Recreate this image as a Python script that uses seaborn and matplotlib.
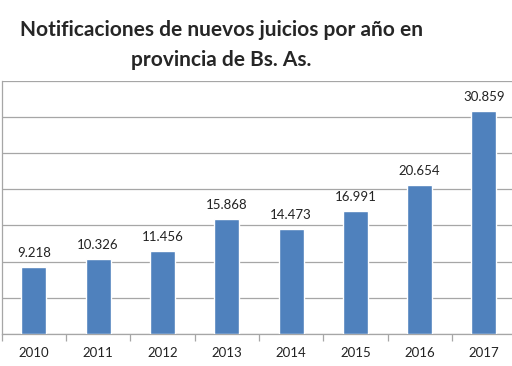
import numpy as np
import pandas as pd
import matplotlib
matplotlib.use("Agg")
import matplotlib.pyplot as plt
import seaborn as sns

years = ["2010", "2011", "2012", "2013", "2014", "2015", "2016", "2017"]
juicios = [9218, 10326, 11456, 15868, 14473, 16991, 20654, 30859]

df = pd.DataFrame({"anio": years, "juicios": juicios})

sns.set_style("white")
plt.rcParams['font.family'] = ['Lato', 'DejaVu Sans']

fig = plt.figure(figsize=(5.12, 3.66), dpi=100)
ax = fig.add_axes([1.7 / 512, 1 - 334 / 366, 514.4 / 512, (334 - 80.7) / 366])

sns.barplot(data=df, x="anio", y="juicios", color="#4F81BD", saturation=1,
            width=0.39, ax=ax, zorder=3)

ax.set_ylim(0, 35000)
ax.set_xlim(-0.5, len(years) - 0.5)
ax.set_yticks(np.arange(0, 35001, 5000))
ax.yaxis.grid(True, color="#A6A6A6", linewidth=0.9, zorder=0)
ax.tick_params(axis="y", left=False, labelleft=False)

# ticks between categories
ax.set_xticks(np.arange(-0.5, len(years), 1.0), minor=True)
ax.tick_params(axis="x", which="major", bottom=False, labelsize=9.5, pad=6, colors="#222222")
ax.tick_params(axis="x", which="minor", bottom=True, length=5, color="#A6A6A6", width=0.9)
ax.set_xlabel("")
ax.set_ylabel("")

for s in ["top", "right"]:
    ax.spines[s].set_visible(False)
for s in ["left", "bottom"]:
    ax.spines[s].set_color("#A6A6A6")
    ax.spines[s].set_linewidth(0.9)

for i, v in enumerate(juicios):
    ax.text(i, v + 1100, f"{v:,}".replace(",", "."), ha="center", va="bottom",
            fontsize=9.5, color="#222222")

fig.text(221 / 512, 1 - 30 / 366, "Notificaciones de nuevos juicios por año en",
         ha="center", va="center", fontsize=15, fontweight="bold")
fig.text(221 / 512, 1 - 60 / 366, "provincia de Bs. As.",
         ha="center", va="center", fontsize=15, fontweight="bold")

fig.savefig("out.png", dpi=100)
